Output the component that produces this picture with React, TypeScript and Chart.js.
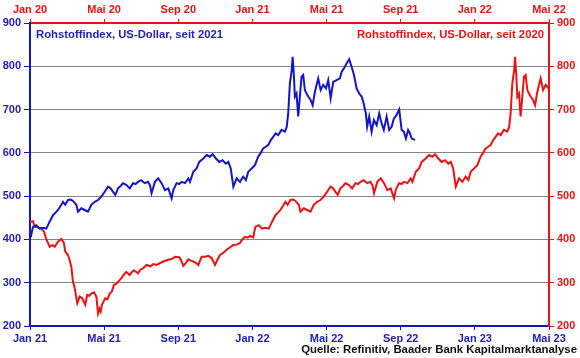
import { useEffect, useRef } from 'react';
import { Chart, registerables } from 'chart.js';

Chart.register(...registerables);

// Month position (months since Jan 2020) and commodity index level (US-Dollar)
const monthPos = [
  0.0, 0.16, 0.25, 0.42, 0.59, 0.76, 0.86, 1.06, 1.2, 1.33, 1.51, 1.69, 1.83, 1.9, 2.05, 2.14, 2.23, 2.32, 2.41, 2.55,
  2.68, 2.82, 2.98, 3.09, 3.2, 3.31, 3.45, 3.58, 3.67, 3.75, 3.81, 3.88, 4.06, 4.18, 4.3, 4.42, 4.53, 4.62, 4.75, 4.92,
  5.05, 5.19, 5.38, 5.5, 5.61, 5.83, 5.95, 6.09, 6.29, 6.5, 6.65, 6.83, 7.01, 7.19, 7.37, 7.55, 7.7, 7.82, 8.05, 8.15,
  8.27, 8.4, 8.54, 8.68, 8.81, 8.95, 9.08, 9.26, 9.45, 9.62, 9.8, 9.98, 10.1, 10.25, 10.4, 10.61, 10.8, 10.97, 11.15, 11.33,
  11.45, 11.6, 11.75, 11.87,
  12.04, 12.16, 12.34, 12.52, 12.7, 12.88, 13.06, 13.24, 13.38, 13.51, 13.69, 13.78, 13.9, 14.05, 14.2, 14.32, 14.5, 14.59,
  14.77, 14.95, 15.13, 15.31, 15.49, 15.67, 15.85, 16.03, 16.21, 16.35, 16.48, 16.6, 16.75, 16.9, 17.02, 17.19, 17.38,
  17.56, 17.7, 17.83, 18.0, 18.19, 18.36, 18.47, 18.56, 18.74, 18.92, 19.1, 19.28, 19.46, 19.64, 19.73, 19.91, 20.05,
  20.18, 20.36, 20.54, 20.63, 20.81, 20.99, 21.13, 21.35, 21.53, 21.71, 21.85, 22.03, 22.21, 22.39, 22.57, 22.7, 22.83,
  22.97, 23.15, 23.33, 23.5, 23.65, 23.77, 23.96, 24.14, 24.31, 24.45, 24.58, 24.72, 24.85, 25.0, 25.12, 25.25, 25.39,
  25.57, 25.75, 25.85, 25.93, 26.02, 26.12, 26.17, 26.24, 26.29, 26.38, 26.47, 26.56, 26.65, 26.74, 26.83, 26.92, 27.01,
  27.14, 27.25, 27.37, 27.55, 27.68, 27.82, 27.97, 28.09, 28.22, 28.36, 28.54, 28.72, 28.81, 28.99, 29.1, 29.22, 29.35,
  29.48, 29.62, 29.76, 29.89, 29.98, 30.12, 30.19, 30.3, 30.43, 30.55, 30.7, 30.84, 30.97, 31.09, 31.24, 31.38, 31.51,
  31.63, 31.77, 31.92, 32.05, 32.17, 32.28, 32.4, 32.5, 32.59, 32.77,
];

const indexValues = [
  440, 442, 429, 428, 426, 418, 403, 383, 387, 383, 395, 401, 392, 372, 364, 352, 337, 302, 288, 253,
  268, 264, 249, 272, 270, 275, 278, 268, 229, 240, 233, 249, 264, 262, 275, 280, 295, 296, 302, 310,
  318, 325, 318, 325, 329, 322, 330, 333, 341, 338, 343, 341, 345, 349, 352, 354, 356, 360, 359, 352,
  339, 345, 354, 351, 349, 346, 341, 360, 360, 362, 357, 341, 352, 364, 368, 376, 382, 387, 388, 392,
  400, 406, 404, 408,
  405, 429, 433, 425, 427, 425, 441, 456, 462, 468, 480, 487, 480, 491, 492, 489, 480, 464,
  472, 468, 464, 480, 487, 491, 499, 510, 522, 518, 510, 503, 518, 524, 530, 526, 518,
  530, 528, 533, 537, 530, 533, 526, 507, 533, 541, 530, 514, 518, 495, 514, 530, 528,
  533, 530, 541, 533, 556, 564, 579, 587, 595, 591, 597, 587, 579, 583, 575, 579, 564,
  522, 541, 533, 545, 537, 556, 564, 572, 591, 600, 610, 614, 618, 630, 637, 645, 641,
  653, 649, 660, 691, 760, 791, 822, 776, 730, 737, 684, 730, 776, 780, 745, 737, 730,
  722, 710, 741, 772, 745, 757, 749, 768, 726, 764, 768, 772, 787, 799, 808, 816, 799,
  780, 749, 737, 730, 718, 691, 660, 684, 649, 676, 664, 691, 668, 653, 684, 653, 660,
  679, 687, 700, 653, 649, 633, 653, 645, 633, 630,
];

const monthNames = ['Jan', 'Mai', 'Sep'];
const yTicks = [200, 300, 400, 500, 600, 700, 800, 900];

const LEGEND_2021 = 'Rohstoffindex, US-Dollar, seit 2021';
const LEGEND_2020 = 'Rohstoffindex, US-Dollar, seit 2020';
const SOURCE = 'Quelle: Refinitiv, Baader Bank Kapitalmarktanalyse';

const BLUE = '#1515c8';
const BLUE_TEXT = '#2222b4';
const RED = '#ec1212';
const GRID = '#858585';
const FONT = '"Liberation Sans", Arial, sans-serif';

const monthLabel = (v: number) => {
  const m = Math.round(v);
  const name = monthNames[(m % 12) / 4];
  return name + ' ' + (20 + Math.floor(m / 12));
};

const overlayPlugin = {
  id: 'overlay',
  afterDraw(chart: any) {
    const { ctx, chartArea } = chart;
    ctx.save();
    ctx.font = 'bold 11.3px ' + FONT;
    ctx.textBaseline = 'middle';
    ctx.textAlign = 'left';
    ctx.fillStyle = BLUE_TEXT;
    ctx.fillText(LEGEND_2021, chartArea.left + 6, 35);
    ctx.textAlign = 'right';
    ctx.fillStyle = RED;
    ctx.fillText(LEGEND_2020, chartArea.right - 5, 35);
    ctx.font = 'bold 11.4px ' + FONT;
    ctx.fillStyle = '#111111';
    ctx.textBaseline = 'alphabetic';
    ctx.fillText(SOURCE, 577, 353);
    ctx.restore();
  },
};

export default function App() {
  const ref = useRef<HTMLCanvasElement | null>(null);

  useEffect(() => {
    document.body.style.margin = '0';
    const points = monthPos.map((m, i) => ({ x: m, y: indexValues[i] }));
    const bluePts = points.filter((p) => p.x >= 12);
    const tickFont = { family: FONT, size: 11, weight: 'bold' as const };

    const chart = new Chart(ref.current as HTMLCanvasElement, {
      type: 'line',
      data: {
        datasets: [
          {
            label: LEGEND_2021,
            data: bluePts,
            borderColor: BLUE,
            borderWidth: 2,
            pointRadius: 0,
            tension: 0,
            xAxisID: 'x',
            yAxisID: 'y',
          },
          {
            label: LEGEND_2020,
            data: points,
            borderColor: RED,
            borderWidth: 2,
            pointRadius: 0,
            tension: 0,
            xAxisID: 'x2',
            yAxisID: 'y2',
          },
        ],
      },
      options: {
        responsive: false,
        animation: false,
        layout: { padding: 0 },
        plugins: { legend: { display: false }, tooltip: { enabled: false } },
        scales: {
          x: {
            type: 'linear',
            position: 'bottom',
            min: 12,
            max: 40,
            afterFit: (s: any) => { s.height = 32; },
            ticks: { stepSize: 4, callback: (v: any) => monthLabel(v), color: BLUE_TEXT, font: tickFont, maxRotation: 0, autoSkip: false, padding: 2 },
            grid: { drawOnChartArea: false, drawTicks: true, tickLength: 4, tickColor: BLUE, tickWidth: 1 },
            border: { color: BLUE, width: 2 },
          },
          x2: {
            type: 'linear',
            position: 'top',
            min: 0,
            max: 28,
            afterFit: (s: any) => { s.height = 23; },
            ticks: { stepSize: 4, callback: (v: any) => monthLabel(v), color: RED, font: tickFont, maxRotation: 0, autoSkip: false, padding: 2 },
            grid: { drawOnChartArea: false, drawTicks: true, tickLength: 4, tickColor: RED, tickWidth: 1 },
            border: { color: RED, width: 2 },
          },
          y: {
            type: 'linear',
            position: 'left',
            min: 200,
            max: 900,
            afterFit: (s: any) => { s.width = 30; },
            afterBuildTicks: (s: any) => { s.ticks = yTicks.map((v) => ({ value: v })); },
            ticks: { color: BLUE_TEXT, font: tickFont, padding: 3 },
            grid: {
              color: (c: any) => (c.tick && (c.tick.value === 200 || c.tick.value === 900) ? 'rgba(0,0,0,0)' : GRID),
              lineWidth: 1,
              drawTicks: true,
              tickLength: 6,
              tickColor: BLUE,
            },
            border: { color: BLUE, width: 2 },
          },
          y2: {
            type: 'linear',
            position: 'right',
            min: 200,
            max: 900,
            afterFit: (s: any) => { s.width = 31; },
            afterBuildTicks: (s: any) => { s.ticks = yTicks.map((v) => ({ value: v })); },
            ticks: { color: RED, font: tickFont, padding: 3 },
            grid: { drawOnChartArea: false, drawTicks: true, tickLength: 5, tickColor: RED },
            border: { color: RED, width: 2 },
          },
        },
      },
      plugins: [overlayPlugin],
    });
    return () => chart.destroy();
  }, []);

  return (
    <div style={{ width: 580, height: 358, background: '#fff' }}>
      <canvas ref={ref} width={580} height={358} />
    </div>
  );
}
